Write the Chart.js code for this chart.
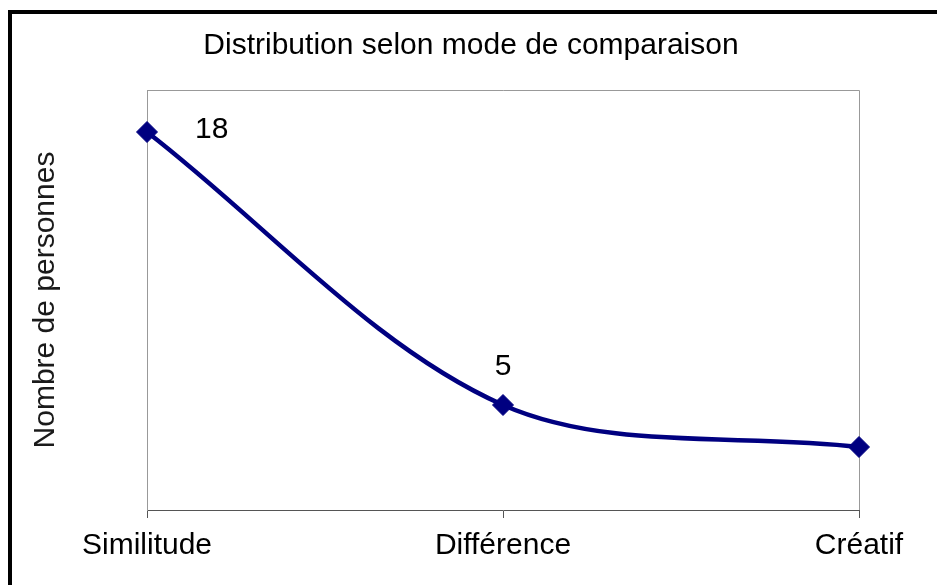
<!DOCTYPE html>
<html lang="fr">
<head>
<meta charset="utf-8">
<title>Distribution selon mode de comparaison</title>
<script src="https://cdn.jsdelivr.net/npm/chart.js@4.4.1/dist/chart.umd.min.js"></script>
<style>
  html, body { margin: 0; padding: 0; background: #fff; overflow: hidden; }
  #frame {
    position: absolute; left: 8px; top: 10px;
    width: 1000px; height: 700px;
    border-left: 4px solid #000; border-top: 4px solid #000;
    box-shadow: 1px 1px 0 #999;
  }
  #chart { position: absolute; left: 0; top: 0; }
</style>
</head>
<body>
<div id="frame"></div>
<canvas id="chart" width="937" height="585"></canvas>
<script>
const categories = ["Similitude", "Différence", "Créatif"];
const personnes = [18, 5, 3];

const yMin = 0;
const yMax = 20;

const FONT = "'Liberation Sans', Arial, sans-serif";

/* =========================
   PLOT FRAME (top + right)
========================= */
const plotFrame = {
  id: "plotFrame",
  beforeDatasetsDraw(chart) {
    const { ctx, chartArea: a } = chart;
    ctx.save();
    ctx.strokeStyle = "#999";
    ctx.lineWidth = 1;
    ctx.beginPath();
    ctx.moveTo(a.left, a.top + 0.5);
    ctx.lineTo(a.right + 0.5, a.top + 0.5);
    ctx.lineTo(a.right + 0.5, a.bottom);
    ctx.stroke();
    ctx.restore();
  }
};

/* =========================
   VALUE LABELS
========================= */
const valueLabels = {
  id: "valueLabels",
  afterDatasetsDraw(chart, args, opts) {
    const { ctx } = chart;
    const meta = chart.getDatasetMeta(0);
    const values = chart.data.datasets[0].data;
    ctx.save();
    ctx.font = "30px " + FONT;
    ctx.fillStyle = "#000";
    ctx.textBaseline = "middle";
    meta.data.forEach((pt, i) => {
      const spot = opts.spots[i];
      if (!spot) return;
      if (spot === "right") {
        ctx.textAlign = "left";
        ctx.fillText(String(values[i]), pt.x + 48, pt.y - 2);
      } else if (spot === "above") {
        ctx.textAlign = "center";
        ctx.fillText(String(values[i]), pt.x, pt.y - 38);
      }
    });
    ctx.restore();
  }
};

new Chart(document.getElementById("chart"), {
  type: "line",
  data: {
    labels: categories,
    datasets: [{
      label: "Nombre de personnes",
      data: personnes,
      borderColor: "#000080",
      borderWidth: 4.5,
      tension: 0.33,
      pointStyle: "rectRot",
      pointRadius: 10.5,
      pointHoverRadius: 10.5,
      pointBackgroundColor: "#000080",
      pointBorderColor: "#000080",
      pointBorderWidth: 1
    }]
  },
  options: {
    responsive: false,
    animation: false,
    layout: { padding: { left: 14, right: 9, top: 14, bottom: 11 } },
    plugins: {
      legend: { display: false },
      tooltip: { enabled: false },
      title: {
        display: true,
        text: "Distribution selon mode de comparaison",
        color: "#000",
        font: { family: FONT, size: 30, weight: "normal" },
        padding: { top: 14, bottom: 26 }
      },
      valueLabels: { spots: ["right", "above", null] }
    },
    scales: {
      x: {
        offset: false,
        grid: {
          display: true,
          drawOnChartArea: false,
          drawTicks: true,
          tickLength: 8,
          color: "#555"
        },
        border: { display: true, color: "#555", width: 1 },
        ticks: {
          color: "#000",
          padding: 10,
          maxRotation: 0,
          font: { family: FONT, size: 30 }
        }
      },
      y: {
        min: yMin,
        max: yMax,
        grid: { display: false, drawTicks: false },
        border: { display: true, color: "#999", width: 1 },
        ticks: { display: false },
        title: {
          display: true,
          text: "Nombre de personnes",
          color: "#1a1a1a",
          font: { family: FONT, size: 30 },
          padding: { top: 14, bottom: 83 }
        }
      },
      // empty right-hand strip so the plot stops short of the frame
      yRight: {
        position: "right",
        display: true,
        min: yMin,
        max: yMax,
        grid: { display: false, drawTicks: false },
        border: { display: false },
        ticks: { display: false },
        afterFit(scale) { scale.width = 69; }
      }
    }
  },
  plugins: [plotFrame, valueLabels]
});
</script>
</body>
</html>
